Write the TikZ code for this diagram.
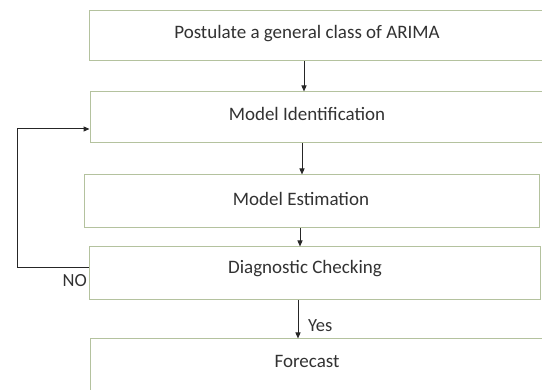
\documentclass[tikz,border=0pt]{standalone}
\usepackage{fontspec}
\setmainfont{Carlito}
\usetikzlibrary{arrows.meta}
\definecolor{boxline}{RGB}{180,194,158}
\definecolor{txt}{RGB}{50,50,50}
\tikzset{
  box/.style={draw=boxline, line width=1pt, fill=white, minimum height=51pt, inner sep=0pt},
  lbl/.style={text=txt, font=\fontsize{19}{22}\selectfont, inner sep=0pt},
  small/.style={text=txt, font=\fontsize{18.5}{21}\selectfont, inner sep=0pt},
  arr/.style={draw=black!85, line width=1pt, -{Triangle[length=6pt,width=5pt]}},
}
\begin{document}
\begin{tikzpicture}[x=1pt,y=-1pt]
\useasboundingbox (0,0) rectangle (542,390);
\clip (0,0) rectangle (542,390);
% boxes
\node[box, minimum width=465pt, minimum height=50pt] (b1) at (321.5,36) {};
\node[box, minimum width=465pt, minimum height=51pt] (b2) at (322.5,117.5) {};
\node[box, minimum width=455pt, minimum height=53pt] (b3) at (311.5,201.5) {};
\node[box, minimum width=451pt, minimum height=53pt] (b4) at (314.5,273.5) {};
\node[box, minimum width=465pt, minimum height=52pt] (b5) at (322.5,365) {};
% texts
\node[lbl] (t1) at (307,34) {Postulate a general class of ARIMA};
\node[lbl] (t2) at (307,114) {Model Identification};
\node[lbl] (t3) at (301,199) {Model Estimation};
\node[lbl] (t4) at (305,269) {Diagnostic Checking};
\node[lbl] (t5) at (307,361) {Forecast};
% arrow columns
\coordinate (c1) at (304,0);
\coordinate (c2) at (302,0);
\coordinate (c3) at (300,0);
\coordinate (c4) at (298,0);
\draw[arr] (b1.south -| c1) -- (b2.north -| c1);
\draw[arr] (b2.south -| c2) -- (b3.north -| c2);
\draw[arr] (b3.south -| c3) -- (b4.north -| c3);
\draw[arr] (b4.south -| c4) -- (b5.north -| c4);
\node[small, anchor=west] (yes) at (308,326) {Yes};
% feedback loop
\coordinate (lp) at (17,0);
\coordinate (fb) at (0,268);
\coordinate (ft) at (0,129);
\draw[arr] (b4.west |- fb) -- (lp |- fb) -- (lp |- ft) -- (b2.west |- ft);
\node[small, anchor=east] (no) at (87,281) {NO};
\end{tikzpicture}
\end{document}
